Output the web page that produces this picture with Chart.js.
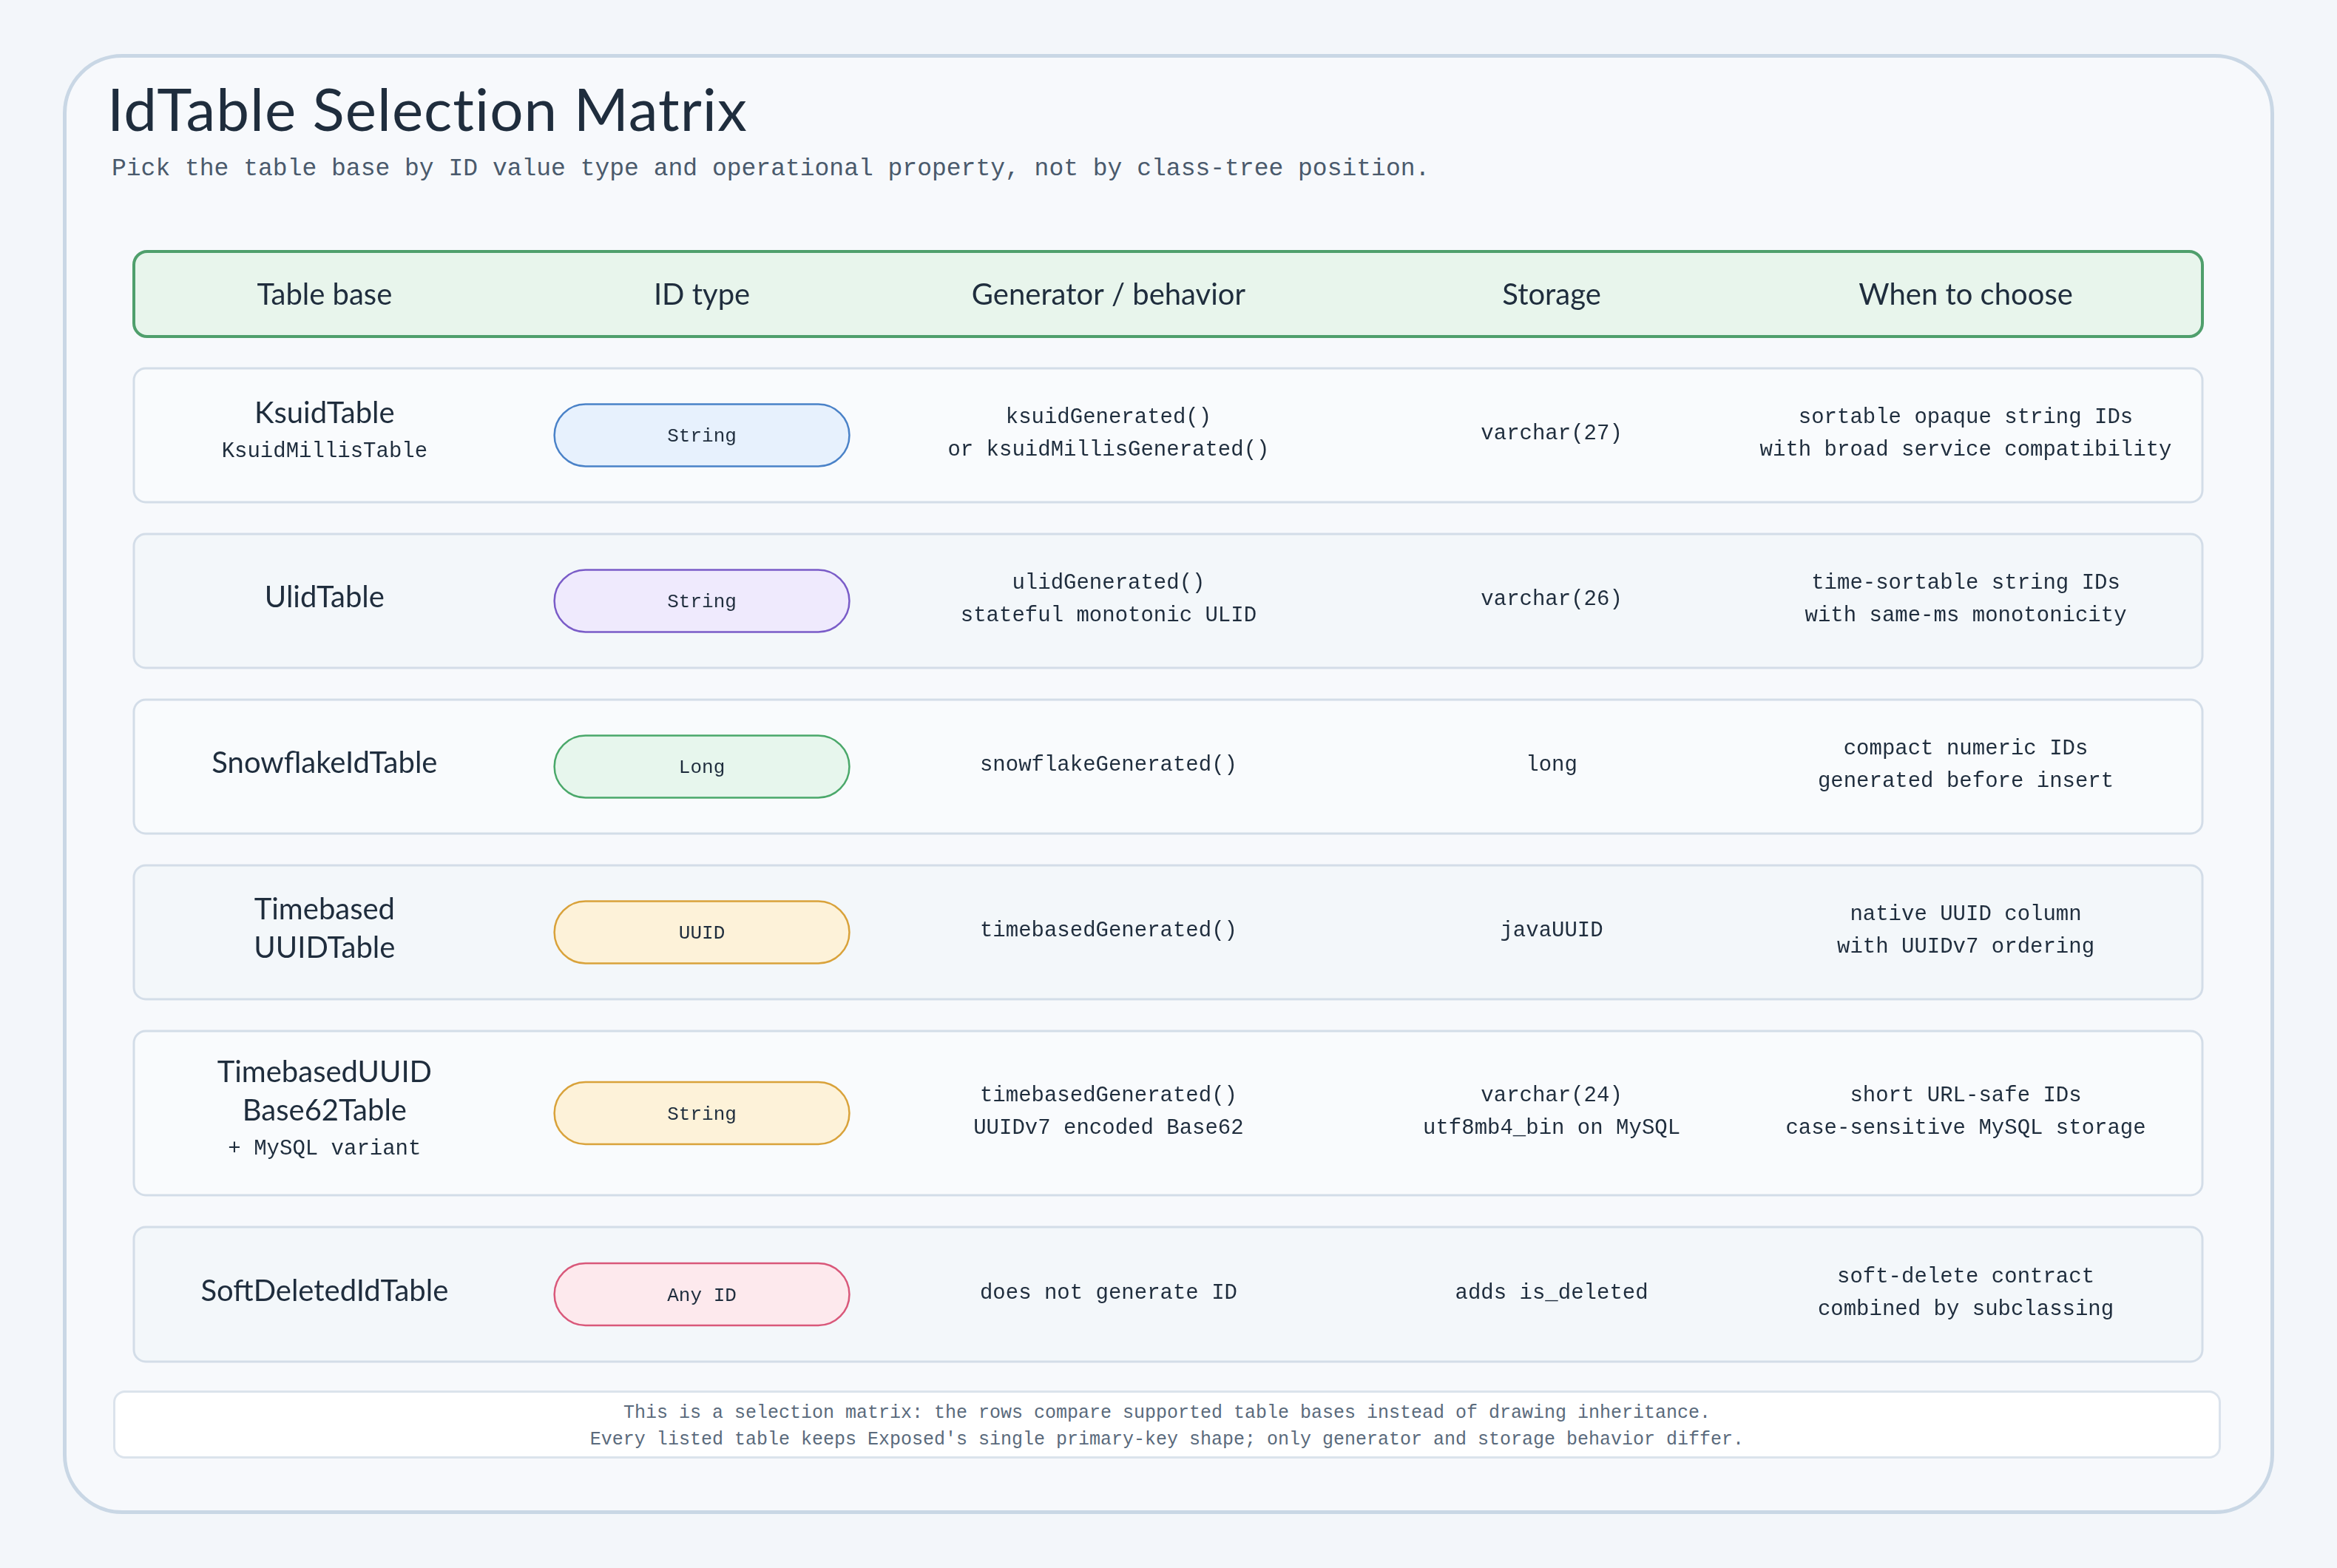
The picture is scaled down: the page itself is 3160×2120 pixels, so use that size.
<!DOCTYPE html>
<html><head><meta charset="utf-8">
<script src="https://cdn.jsdelivr.net/npm/chart.js@4/dist/chart.umd.min.js"></script>
<style>
html,body{margin:0;padding:0;background:#f3f6fa;width:3160px;height:2120px;overflow:hidden}
#card{position:absolute;left:85px;top:73px;width:2980px;height:1964px;border:5px solid #c9d7e5;border-radius:80px;background:#f7f9fc}
#title{position:absolute;left:145px;top:98px;font:80px "Comic Sans MS","Lato",sans-serif;color:#1f2d3d;letter-spacing:1px}
#sub{position:absolute;left:151px;top:210px;font:33px "Liberation Mono",monospace;color:#4a5a6c}
#foot{position:absolute;left:153px;top:1880px;width:2850px;height:92px;border:3px solid #dbe3ec;border-radius:16px;background:#fff;font:25px "Liberation Mono",monospace;color:#5a6a7c;text-align:center;line-height:36px;padding-top:10px;box-sizing:border-box}
canvas{position:absolute;left:0;top:0}
</style></head><body>
<div id="card"></div>
<div id="title">IdTable Selection Matrix</div>
<div id="sub">Pick the table base by ID value type and operational property, not by class-tree position.</div>
<div id="foot">This is a selection matrix: the rows compare supported table bases instead of drawing inheritance.<br>Every listed table keeps Exposed's single primary-key shape; only generator and storage behavior differ.</div>
<canvas id="c" width="3160" height="2120"></canvas>
<script>
const headers = ["Table base","ID type","Generator / behavior","Storage","When to choose"];
const tableBases = [["KsuidTable"],["UlidTable"],["SnowflakeIdTable"],["Timebased","UUIDTable"],["TimebasedUUID","Base62Table"],["SoftDeletedIdTable"]];
const tableSubs = ["KsuidMillisTable","","","","+ MySQL variant",""];
const idTypes = ["String","String","Long","UUID","String","Any ID"];
const generators = [["ksuidGenerated()","or ksuidMillisGenerated()"],["ulidGenerated()","stateful monotonic ULID"],["snowflakeGenerated()"],["timebasedGenerated()"],["timebasedGenerated()","UUIDv7 encoded Base62"],["does not generate ID"]];
const storages = [["varchar(27)"],["varchar(26)"],["long"],["javaUUID"],["varchar(24)","utf8mb4_bin on MySQL"],["adds is_deleted"]];
const whenToChoose = [["sortable opaque string IDs","with broad service compatibility"],["time-sortable string IDs","with same-ms monotonicity"],["compact numeric IDs","generated before insert"],["native UUID column","with UUIDv7 ordering"],["short URL-safe IDs","case-sensitive MySQL storage"],["soft-delete contract","combined by subclassing"]];
const pillFill = ["#e7f1fd","#efeafd","#e7f6ed","#fdf2d9","#fdf2d9","#fde9ed"];
const pillStroke = ["#4a82c8","#7a5cc8","#4aa86a","#d9a23a","#d9a23a","#d9587a"];

const L = {headerH:115, gap:43, rowH:[181,181,181,181,222,182], colC:[0.461,1.373,2.356,3.427,4.428], pillW:0.713, pillH:84};
const rowTop=[]; {let y=L.headerH+L.gap; L.rowH.forEach(h=>{rowTop.push(y); y+=h+L.gap;});}

function rr(ctx,x,y,w,h,r){ctx.beginPath();ctx.moveTo(x+r,y);ctx.arcTo(x+w,y,x+w,y+h,r);ctx.arcTo(x+w,y+h,x,y+h,r);ctx.arcTo(x,y+h,x,y,r);ctx.arcTo(x,y,x+w,y,r);ctx.closePath();}
function lines(ctx,x,yc,arr){
  const tot=arr.reduce((s,a)=>s+a[3],0); let y=yc-tot/2;
  arr.forEach(a=>{ctx.font=a[1];ctx.fillStyle=a[2];ctx.fillText(a[0],x,y+a[3]/2);y+=a[3];});
}
const BIG='40px "Comic Sans MS","Lato",sans-serif', MONO='29px "Liberation Mono",monospace';
const matrix={id:'matrix',afterDraw(ch){
  const ctx=ch.ctx,xs=ch.scales.x,ys=ch.scales.y,a=ch.chartArea;
  ctx.save();ctx.textAlign='center';ctx.textBaseline='middle';
  const hy0=ys.getPixelForValue(0),hy1=ys.getPixelForValue(L.headerH);
  rr(ctx,a.left,hy0,a.right-a.left,hy1-hy0,18);ctx.fillStyle='#e8f5ec';ctx.fill();ctx.lineWidth=4;ctx.strokeStyle='#4f9f6c';ctx.stroke();
  headers.forEach((h,i)=>{ctx.font=BIG;ctx.fillStyle='#1f2d3d';ctx.fillText(h,xs.getPixelForValue(L.colC[i]),(hy0+hy1)/2+2);});
  tableBases.forEach((tb,r)=>{
    const y0=ys.getPixelForValue(rowTop[r]),y1=ys.getPixelForValue(rowTop[r]+L.rowH[r]),yc=(y0+y1)/2;
    rr(ctx,a.left,y0,a.right-a.left,y1-y0,16);ctx.fillStyle=r%2?'#f3f7fa':'#f9fbfd';ctx.fill();ctx.lineWidth=3;ctx.strokeStyle='#d3dde8';ctx.stroke();
    const c0=tb.map(t=>[t,BIG,'#1f2d3d',52]); if(tableSubs[r]) c0.push([tableSubs[r],MONO,'#1f2d3d',50]);
    lines(ctx,xs.getPixelForValue(L.colC[0]),yc-4,c0);
    const px=xs.getPixelForValue(L.colC[1]),pw=xs.getPixelForValue(L.colC[1]+L.pillW/2)-px;
    rr(ctx,px-pw,yc-L.pillH/2,pw*2,L.pillH,L.pillH/2);ctx.fillStyle=pillFill[r];ctx.fill();ctx.lineWidth=2.5;ctx.strokeStyle=pillStroke[r];ctx.stroke();
    ctx.font='26px "Liberation Mono",monospace';ctx.fillStyle='#1f2d3d';ctx.fillText(idTypes[r],px,yc+2);
    [[generators,2],[storages,3],[whenToChoose,4]].forEach(([arr,c])=>lines(ctx,xs.getPixelForValue(L.colC[c]),yc-2,arr[r].map(t=>[t,MONO,'#1f2d3d',44])));
  });
  ctx.restore();
}};
new Chart(document.getElementById('c'),{type:'scatter',data:{datasets:[{data:[],pointRadius:0}]},
 plugins:[matrix],
 options:{responsive:false,animation:false,devicePixelRatio:1,layout:{padding:{left:181,right:182,top:340,bottom:282}},
  plugins:{legend:{display:false},tooltip:{enabled:false}},
  scales:{x:{type:'linear',min:0,max:5,display:false},y:{type:'linear',min:0,max:1498,reverse:true,display:false}}}});
</script></body></html>
